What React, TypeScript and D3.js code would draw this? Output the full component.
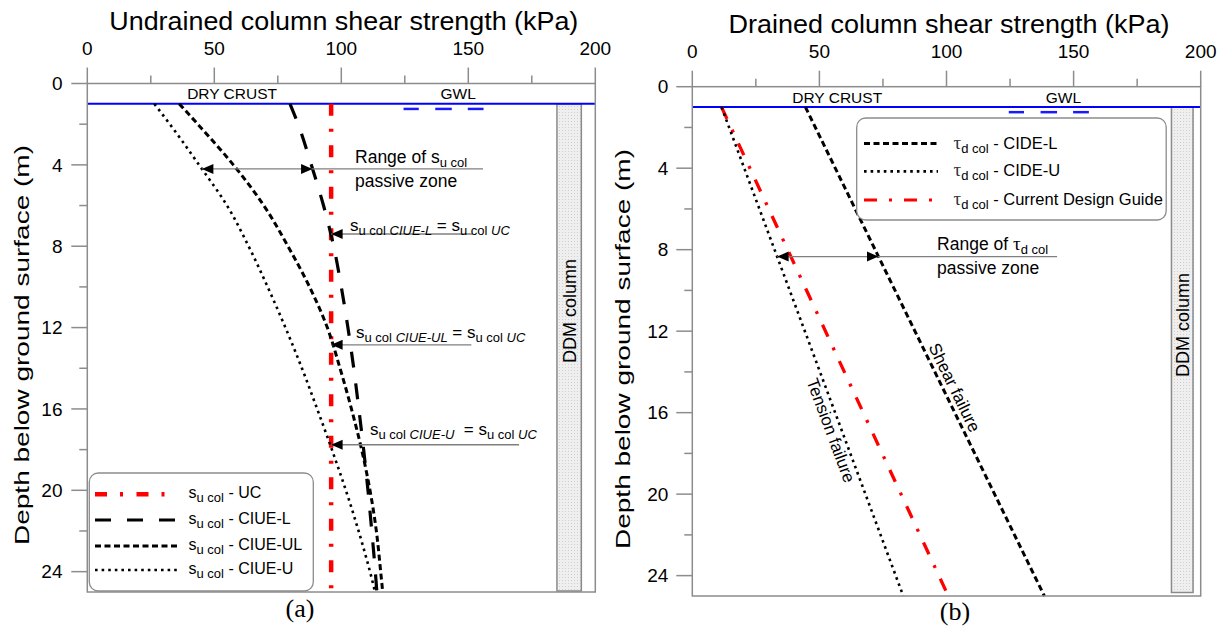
import React from "react";
import * as d3 from "d3";

const FONT = "'Liberation Sans', Arial, Helvetica, sans-serif";
const SERIF = "'Liberation Serif', 'Times New Roman', serif";

// Axis ticks
const depthMajor = [0, 4, 8, 12, 16, 20, 24];
const depthMinor = [2, 6, 10, 14, 18, 22];
const strengthMajor = [0, 50, 100, 150, 200];
const strengthMinor = [25, 75, 125, 175];

// Undrained column shear strength (kPa) versus depth (m)
const depthsUndrained = [1, 2, 4, 6, 8, 10, 12, 14, 16, 18, 20, 22, 24, 25];
const suCiueU = [26.4, 32.5, 44, 55, 63.5, 71, 78, 84.5, 90.5, 96.3, 101.8, 106.8, 111.3, 113.3];
const suCiueUL = [36.2, 43.5, 57.5, 69.5, 79, 87.5, 94.5, 99.5, 104, 108, 111.3, 113.8, 115.5, 116.3];
const suCiueL = [79.8, 83, 88.2, 93, 97, 100, 102.6, 104.9, 106.9, 108.8, 110.5, 112, 113.4, 114];
const depthsUC = [1, 25];
const suUC = [96, 96];

// Drained column shear strength (kPa) versus depth (m)
const depthsDrained = [1, 25];
const tauCideL = [44.5, 138.5];
const tauCideU = [11.5, 83];
const tauDesign = [11.5, 100.7];

// Site features
const gwlDepth = 1;
const gwlSymbol = [[124.5, 130.5], [137, 143.5], [149.8, 156]];
const ddmLeft = [184.9, 194.5];
const ddmRight = [188.5, 197];

type Scale = d3.ScaleLinear<number, number>;

const GRID = "#8c8c8c";

function curvePath(xs: Scale, ys: Scale, depths: number[], vals: number[]) {
  return (
    d3
      .line<number>()
      .x((_, i) => xs(vals[i]))
      .y((d) => ys(d))
      .curve(d3.curveMonotoneY)(depths) || ""
  );
}

function at(depths: number[], vals: number[], d: number) {
  return d3.scaleLinear().domain(depths).range(vals)(d);
}

function Arrowhead({ x, y, dir }: { x: number; y: number; dir: number }) {
  const L = 11.5;
  const h = 5;
  return <polygon points={`${x},${y} ${x - dir * L},${y - h} ${x - dir * L},${y + h}`} fill="#000" />;
}

function Axes({ xs, ys, labelBase, labelRight }: { xs: Scale; ys: Scale; labelBase: number; labelRight: number }) {
  const [x0, x1] = xs.range();
  const [y0, y1] = ys.range();
  return (
    <g>
      <rect x={x0} y={y0} width={x1 - x0} height={y1 - y0} fill="none" stroke={GRID} strokeWidth={1.5} />
      {strengthMajor.map((v) => (
        <g key={"sM" + v}>
          <line x1={xs(v)} x2={xs(v)} y1={y0 - 16} y2={y0} stroke={GRID} strokeWidth={1.5} />
          <text x={xs(v)} y={labelBase} textAnchor="middle" fontSize={19} fontFamily={FONT}>
            {v}
          </text>
        </g>
      ))}
      {strengthMinor.map((v) => (
        <line key={"sm" + v} x1={xs(v)} x2={xs(v)} y1={y0 - 8} y2={y0} stroke={GRID} strokeWidth={1.5} />
      ))}
      {depthMajor.map((d) => (
        <g key={"dM" + d}>
          <line x1={x0 - 16} x2={x0} y1={ys(d)} y2={ys(d)} stroke={GRID} strokeWidth={1.5} />
          <text x={labelRight} y={ys(d)} dy="0.35em" textAnchor="end" fontSize={19} fontFamily={FONT}>
            {d}
          </text>
        </g>
      ))}
      {depthMinor.map((d) => (
        <line key={"dm" + d} x1={x0 - 8} x2={x0} y1={ys(d)} y2={ys(d)} stroke={GRID} strokeWidth={1.5} />
      ))}
    </g>
  );
}

function SiteFeatures({ xs, ys, ddm, ddmBottomGap, ddmTextY }: { xs: Scale; ys: Scale; ddm: number[]; ddmBottomGap: number; ddmTextY: number }) {
  const [x0, x1] = xs.range();
  const yG = ys(gwlDepth);
  const yBottom = ys.range()[1];
  const cx = (xs(ddm[0]) + xs(ddm[1])) / 2;
  return (
    <g>
      <rect
        x={xs(ddm[0])}
        y={yG}
        width={xs(ddm[1]) - xs(ddm[0])}
        height={yBottom - ddmBottomGap - yG}
        fill="url(#stipple)"
        stroke="#8a8a8a"
        strokeWidth={1.5}
      />
      <text
        transform={`translate(${cx + 6.5},${ddmTextY}) rotate(-90)`}
        textAnchor="middle"
        fontSize={18}
        fontFamily={FONT}
      >
        DDM column
      </text>
      <line x1={x0} x2={x1} y1={yG} y2={yG} stroke="#0000ff" strokeWidth={2} />
      {gwlSymbol.map((s, i) => (
        <line key={i} x1={xs(s[0])} x2={xs(s[1])} y1={ys(1.25)} y2={ys(1.25)} stroke="#1a1aff" strokeWidth={2.5} />
      ))}
      <text x={xs(57)} y={yG - 4.5} textAnchor="middle" fontSize={15.5} fontFamily={FONT}>
        DRY CRUST
      </text>
      <text x={xs(146)} y={yG - 4.5} textAnchor="middle" fontSize={15.5} fontFamily={FONT}>
        GWL
      </text>
    </g>
  );
}

const styleUC = { stroke: "#ff0000", strokeWidth: 4.5, strokeDasharray: "12,13,3,13.5" };
const styleLong = { stroke: "#000", strokeWidth: 3.2, strokeDasharray: "16,16" };
const styleShort = { stroke: "#000", strokeWidth: 3, strokeDasharray: "6,3.5" };
const styleDot = { stroke: "#000", strokeWidth: 2.6, strokeDasharray: "2.6,4" };
const styleDesign = { stroke: "#ff0000", strokeWidth: 3.3, strokeDasharray: "13,12,3,12" };

function SuLabel({ x, y, tag, extraSpace }: { x: number; y: number; tag: string; extraSpace?: boolean }) {
  return (
    <text x={x} y={y} fontSize={17} fontFamily={FONT}>
      s
      <tspan dy={4} fontSize={13}>
        u col{" "}
      </tspan>
      <tspan fontSize={13} fontStyle="italic">
        {tag}
      </tspan>
      <tspan dy={-4} xmlSpace="preserve">
        {extraSpace ? "  = s" : " = s"}
      </tspan>
      <tspan dy={4} fontSize={13}>
        u col{" "}
      </tspan>
      <tspan fontSize={13} fontStyle="italic">
        UC
      </tspan>
    </text>
  );
}

export default function App() {
  const xL = d3.scaleLinear().domain([0, 200]).range([87.3, 595.3]);
  const yL = d3.scaleLinear().domain([0, 25]).range([83.5, 592]);
  const xR = d3.scaleLinear().domain([0, 200]).range([692.3, 1200.7]);
  const yR = d3.scaleLinear().domain([0, 25]).range([86.7, 596]);

  // Undrained annotations
  const rangeDepth = 4.2;
  const rangeY = yL(rangeDepth);
  const rangeTipL = xL(at(depthsUndrained, suCiueU, rangeDepth));
  const rangeTipR = xL(at(depthsUndrained, suCiueL, rangeDepth));
  const crossings = [
    { d: 7.4, end: 151.8, tx: 103.4, ty: 230.5, tag: "CIUE-L", extra: false },
    { d: 12.85, end: 151.2, tx: 105.8, ty: 337.5, tag: "CIUE-UL", extra: false },
    { d: 17.76, end: 170, tx: 111.3, ty: 435, tag: "CIUE-U", extra: true },
  ];

  // Drained annotations
  const dRange = 8.34;
  const dRangeY = yR(dRange);
  const dTipL = xR(at(depthsDrained, tauCideU, dRange));
  const dTipR = xR(at(depthsDrained, tauCideL, dRange));

  const angleOf = (vals: number[]) => {
    const dx = xR(vals[1]) - xR(vals[0]);
    const dy = yR(depthsDrained[1]) - yR(depthsDrained[0]);
    return (Math.atan2(dy, dx) * 180) / Math.PI;
  };
  const shearD = 15;
  const tensionD = 16.7;

  const legendL = [
    { style: styleUC, name: "UC" },
    { style: styleLong, name: "CIUE-L" },
    { style: styleShort, name: "CIUE-UL" },
    { style: styleDot, name: "CIUE-U" },
  ];
  const legendLY = [494.3, 520, 546, 570];

  const legendR = [
    { style: styleShort, name: "CIDE-L" },
    { style: styleDot, name: "CIDE-U" },
    { style: { ...styleDesign, strokeWidth: 3 }, name: "Current Design Guide" },
  ];
  const legendRY = [143.6, 171.4, 200];

  return (
    <svg
      width={1225}
      height={628}
      style={{ position: "absolute", left: 0, top: 0, background: "#fff" }}
      fontFamily={FONT}
    >
      <defs>
        <pattern id="stipple" width={3} height={3} patternUnits="userSpaceOnUse">
          <rect width={3} height={3} fill="#efefef" />
          <rect x={1} y={1} width={1} height={1} fill="#cfcfcf" />
        </pattern>
      </defs>
      <rect width={1225} height={628} fill="#fff" />

      {/* ---------- Panel (a): undrained ---------- */}
      <text x={343.8} y={30} textAnchor="middle" fontSize={25} textLength={469} lengthAdjust="spacingAndGlyphs">
        Undrained column shear strength (kPa)
      </text>
      <text
        transform="translate(28.5,345) rotate(-90)"
        textAnchor="middle"
        fontSize={21}
        textLength={400}
        lengthAdjust="spacingAndGlyphs"
      >
        Depth below ground surface (m)
      </text>
      <SiteFeatures xs={xL} ys={yL} ddm={ddmLeft} ddmBottomGap={1} ddmTextY={311} />

      <path d={curvePath(xL, yL, depthsUC, suUC)} fill="none" {...styleUC} />
      <path d={curvePath(xL, yL, depthsUndrained, suCiueL)} fill="none" {...styleLong} />
      <path d={curvePath(xL, yL, depthsUndrained, suCiueUL)} fill="none" {...styleShort} />
      <path d={curvePath(xL, yL, depthsUndrained, suCiueU)} fill="none" {...styleDot} />

      {/* range of s_u col */}
      <line x1={rangeTipL} x2={xL(155.8)} y1={rangeY} y2={rangeY} stroke="#7f7f7f" strokeWidth={1.3} />
      <Arrowhead x={rangeTipL} y={rangeY} dir={-1} />
      <Arrowhead x={rangeTipR} y={rangeY} dir={1} />
      <text x={xL(105.4)} y={163.3} fontSize={17.5}>
        Range of s
        <tspan dy={4} fontSize={13}>
          u col
        </tspan>
      </text>
      <text x={xL(105.4)} y={187} fontSize={17.5}>
        passive zone
      </text>

      {crossings.map((c) => {
        const yy = yL(c.d);
        const tip = xL(suUC[0]);
        return (
          <g key={c.tag}>
            <line x1={tip} x2={xL(c.end)} y1={yy} y2={yy} stroke="#7f7f7f" strokeWidth={1.3} />
            <Arrowhead x={tip} y={yy} dir={-1} />
            <SuLabel x={xL(c.tx)} y={c.ty} tag={c.tag} extraSpace={c.extra} />
          </g>
        );
      })}

      {/* legend (a) */}
      <rect x={89.3} y={473} width={224} height={118} rx={9} fill="#fff" stroke="#8c8c8c" strokeWidth={1.3} />
      {legendL.map((e, i) => (
        <g key={e.name}>
          <line x1={95} x2={178} y1={legendLY[i]} y2={legendLY[i]} {...e.style} />
          <text x={188.5} y={legendLY[i] + 4} fontSize={16}>
            s
            <tspan dy={4} fontSize={13}>
              u col
            </tspan>
            <tspan dy={-4}> - {e.name}</tspan>
          </text>
        </g>
      ))}

      <Axes xs={xL} ys={yL} labelBase={55} labelRight={62.5} />
      <text x={300} y={617} textAnchor="middle" fontSize={26} fontFamily={SERIF}>
        (a)
      </text>

      {/* ---------- Panel (b): drained ---------- */}
      <text x={949} y={33.3} textAnchor="middle" fontSize={25} textLength={441} lengthAdjust="spacingAndGlyphs">
        Drained column shear strength (kPa)
      </text>
      <text
        transform="translate(630,349) rotate(-90)"
        textAnchor="middle"
        fontSize={21}
        textLength={400}
        lengthAdjust="spacingAndGlyphs"
      >
        Depth below ground surface (m)
      </text>
      <SiteFeatures xs={xR} ys={yR} ddm={ddmRight} ddmBottomGap={3.5} ddmTextY={325} />

      <path d={curvePath(xR, yR, depthsDrained, tauDesign)} fill="none" {...styleDesign} />
      <path d={curvePath(xR, yR, depthsDrained, tauCideL)} fill="none" {...styleShort} />
      <path d={curvePath(xR, yR, depthsDrained, tauCideU)} fill="none" {...styleDot} />

      <text
        transform={`translate(${xR(at(depthsDrained, tauCideL, shearD))},${yR(shearD)}) rotate(${angleOf(tauCideL)})`}
        textAnchor="middle"
        dy={-5}
        fontSize={17}
      >
        Shear failure
      </text>
      <text
        transform={`translate(${xR(at(depthsDrained, tauCideU, tensionD))},${yR(tensionD)}) rotate(${angleOf(tauCideU)})`}
        textAnchor="middle"
        dy={16}
        fontSize={17}
      >
        Tension failure
      </text>

      {/* range of tau_d col */}
      <line x1={dTipL} x2={xR(143.5)} y1={dRangeY} y2={dRangeY} stroke="#7f7f7f" strokeWidth={1.3} />
      <Arrowhead x={dTipL} y={dRangeY} dir={-1} />
      <Arrowhead x={dTipR} y={dRangeY} dir={1} />
      <text x={xR(96.3)} y={249.8} fontSize={17.5}>
        Range of{" "}
        <tspan fontFamily={SERIF} fontSize={19}>
          τ
        </tspan>
        <tspan dy={4} fontSize={13}>
          d col
        </tspan>
      </text>
      <text x={xR(96.3)} y={274} fontSize={17.5}>
        passive zone
      </text>

      {/* legend (b) */}
      <rect x={856.7} y={118} width={309.5} height={102} rx={9} fill="#fff" stroke="#8c8c8c" strokeWidth={1.3} />
      {legendR.map((e, i) => (
        <g key={e.name}>
          <line x1={864} x2={938} y1={legendRY[i]} y2={legendRY[i]} {...e.style} />
          <text x={953.5} y={legendRY[i] + 5} fontSize={16.5}>
            <tspan fontFamily={SERIF} fontSize={19} fill="#333">
              τ
            </tspan>
            <tspan dy={4} fontSize={13}>
              d col
            </tspan>
            <tspan dy={-4}> - {e.name}</tspan>
          </text>
        </g>
      ))}

      <Axes xs={xR} ys={yR} labelBase={58.3} labelRight={668.3} />
      <text x={955} y={620} textAnchor="middle" fontSize={26} fontFamily={SERIF}>
        (b)
      </text>
    </svg>
  );
}
